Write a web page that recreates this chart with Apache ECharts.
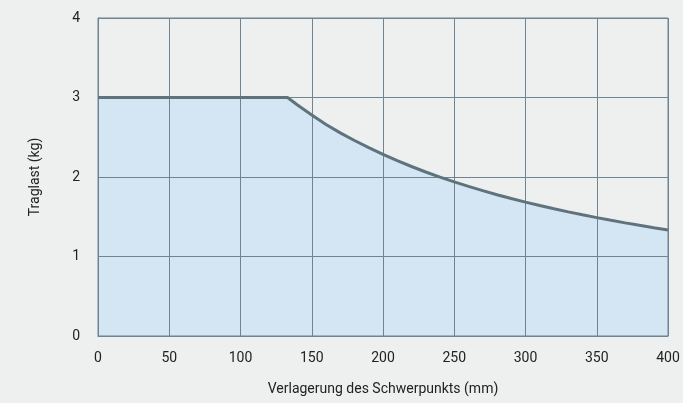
<!DOCTYPE html>
<html><head><meta charset="utf-8">
<script src="https://cdn.jsdelivr.net/npm/echarts@6/dist/echarts.min.js"></script>
<style>html,body{margin:0;padding:0;background:#eef0ef;}#c{width:683px;height:403px;}</style>
</head><body><div id="c"></div>
<script>
const xValues = [0, 50, 100, 133, 140, 150, 160, 170, 180, 190, 200, 210, 220, 230, 240, 250, 260, 270, 280, 290, 300, 310, 320, 330, 340, 350, 360, 370, 380, 390, 400];
const loadValues = [3.0, 3.0, 3.0, 3.0, 2.905, 2.780, 2.661, 2.555, 2.459, 2.369, 2.284, 2.205, 2.132, 2.063, 1.999, 1.938, 1.882, 1.828, 1.777, 1.729, 1.684, 1.641, 1.600, 1.561, 1.524, 1.489, 1.455, 1.423, 1.392, 1.362, 1.334];
const xTitle = 'Verlagerung des Schwerpunkts (mm)';
const yTitle = 'Traglast (kg)';

const chart = echarts.init(document.getElementById('c'));
const gridColor = '#6f8390';
const pts = xValues.map((x, i) => [x, loadValues[i]]);
chart.setOption({
  backgroundColor: '#eef0ef',
  animation: false,
  textStyle: {fontFamily: 'Roboto'},
  grid: {left: 98, right: 15, top: 18, bottom: 67, show: true, borderColor: gridColor, borderWidth: 1, z: 3},
  xAxis: {
    type: 'value', min: 0, max: 400, interval: 50, z: 3,
    name: xTitle, nameLocation: 'middle', nameGap: 46,
    nameTextStyle: {color: '#222', fontSize: 14, fontFamily: 'Roboto'},
    axisLine: {show: true, lineStyle: {color: gridColor}},
    axisTick: {show: false},
    axisLabel: {color: '#222', fontSize: 14, margin: 15, fontFamily: 'Roboto'},
    splitLine: {show: true, lineStyle: {color: gridColor, width: 1}}
  },
  yAxis: {
    type: 'value', min: 0, max: 4, interval: 1, z: 3,
    name: yTitle, nameLocation: 'middle', nameGap: 56, nameRotate: 90,
    nameTextStyle: {color: '#222', fontSize: 14, fontFamily: 'Roboto'},
    axisLine: {show: true, lineStyle: {color: gridColor}},
    axisTick: {show: false},
    axisLabel: {color: '#222', fontSize: 14, margin: 18, fontFamily: 'Roboto'},
    splitLine: {show: true, lineStyle: {color: gridColor, width: 1}}
  },
  series: [{
    type: 'line',
    data: pts,
    showSymbol: false,
    lineStyle: {width: 0},
    areaStyle: {color: '#d4e6f4', opacity: 1},
    z: 1
  }, {
    type: 'line',
    data: pts,
    showSymbol: false,
    lineStyle: {color: '#5e737c', width: 3},
    z: 5
  }]
});
</script></body></html>
